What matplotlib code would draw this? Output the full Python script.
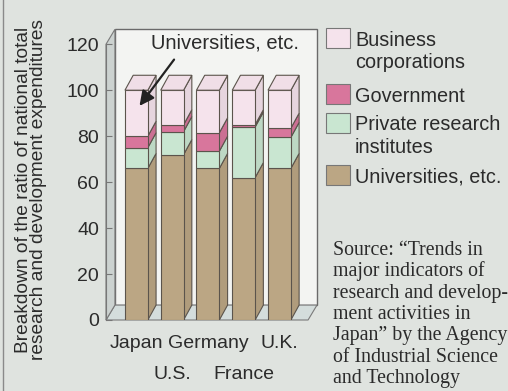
import numpy as np
import matplotlib.pyplot as plt
from matplotlib.patches import Polygon, Rectangle
from matplotlib.colors import to_rgb

countries = ['Japan', 'U.S.', 'Germany', 'France', 'U.K.']
universities = [66, 72, 66, 62, 66]
private = [9, 10, 7.5, 22, 13.5]
government = [5, 3, 8, 1, 4]
business = [20, 15, 18.5, 15, 16.5]

series = [universities, private, government, business]
colors = ['#bba684', '#c9e6d1', '#d8769c', '#f5e3ec']
legend_labels = ['Business\ncorporations', 'Government', 'Private research\ninstitutes', 'Universities, etc.']
legend_colors = ['#f5e3ec', '#d8769c', '#c9e6d1', '#bba684']
source_lines = ['Source: \u201cTrends in', 'major indicators of', 'research and develop-',
                'ment activities in', 'Japan\u201d by the Agency', 'of Industrial Science',
                'and Technology']

bg = '#dfe3df'
edge = '#5b544c'
txt = '#2b2b2b'
plt.rcParams['font.family'] = ['Liberation Sans', 'DejaVu Sans']

W, H = 508, 391
fig = plt.figure(figsize=(W / 100, H / 100), dpi=100, facecolor=bg)
ax = fig.add_axes([106 / W, 71 / H, 211 / W, 290 / H])
ax.set_facecolor('none')
x0, x1 = -0.85, 5.05
ax.set_xlim(x0, x1)
ax.set_ylim(0, 126.2)

bar_w = 0.64
dx, dy = 0.23, 6.5     # bar depth
wdx = 0.25             # box depth

def shade(c, f):
    return tuple(v * f for v in to_rgb(c))

# box: back panel, floor, left wall
ax.add_patch(Polygon([(x0 + wdx, dy), (x1, dy), (x1, 120 + dy), (x0 + wdx, 120 + dy)],
                     fc='#f3f4f2', ec='#6a6a6a', lw=1, zorder=0, clip_on=False))
ax.add_patch(Polygon([(x0, 0), (x1 - wdx, 0), (x1, dy), (x0 + wdx, dy)],
                     fc='#d4dddc', ec='#7a7a7a', lw=0.8, zorder=1, clip_on=False))
ax.add_patch(Polygon([(x0, 0), (x0, 120), (x0 + wdx, 120 + dy), (x0 + wdx, dy)],
                     fc='#ccd2d0', ec='#7a7a7a', lw=0.8, zorder=1, clip_on=False))

# 3D stacked bars
for i in range(len(countries)):
    left = i - bar_w / 2
    right = left + bar_w
    bottom = 0
    for s, c in zip(series, colors):
        top = bottom + s[i]
        ax.add_patch(Rectangle((left, bottom), bar_w, s[i], fc=c, ec=edge, lw=0.8, zorder=3))
        ax.add_patch(Polygon([(right, bottom), (right + dx, bottom + dy), (right + dx, top + dy), (right, top)],
                             fc=shade(c, 0.94), ec=edge, lw=0.8, zorder=2))
        bottom = top
    ax.add_patch(Polygon([(left, bottom), (right, bottom), (right + dx, bottom + dy), (left + dx, bottom + dy)],
                         fc=shade(colors[-1], 0.98), ec=edge, lw=0.8, zorder=3))

for sp in ['top', 'right', 'bottom']:
    ax.spines[sp].set_visible(False)
ax.spines['left'].set_bounds(0, 120)
ax.spines['left'].set_color('#777777')
ax.set_yticks(range(0, 121, 20))
ax.tick_params(axis='y', direction='in', length=4, color='#777777', labelsize=14, labelcolor=txt, pad=5)

# staggered country names: even ones on the first row, odd ones below
even = list(range(0, len(countries), 2))
odd = list(range(1, len(countries), 2))
ax.set_xticks(even)
ax.set_xticklabels([countries[i] for i in even])
ax.set_xticks(odd, minor=True)
ax.set_xticklabels([countries[i] for i in odd], minor=True)
ax.tick_params(axis='x', which='major', length=0, labelsize=14, labelcolor=txt, pad=11)
ax.tick_params(axis='x', which='minor', length=0, labelsize=14, labelcolor=txt, pad=33)

ax.annotate('', xy=(0.04, 92.2), xytext=(1.1, 114.3),
            arrowprops=dict(arrowstyle='-|>', color='#222222', lw=1.6, mutation_scale=22), zorder=6)
ax.text(2.48, 120.6, 'Universities, etc.', ha='center', va='center', fontsize=14.5, color=txt, zorder=6)

fig.text(31 / W, 1 - 190 / H,
         'Breakdown of the ratio of national total\nresearch and development expenditures',
         rotation=90, ha='center', va='center', fontsize=13.8, color=txt, linespacing=0.92)

# legend, one line of text at a time
centers = [38, 94, 123, 175]
for lab, c, cy in zip(legend_labels, legend_colors, centers):
    fig.add_artist(Rectangle((326 / W, 1 - (cy + 10) / H), 24 / W, 20 / H,
                             transform=fig.transFigure, fc=c, ec='#777777', lw=0.8))
    for k, line in enumerate(lab.split('\n')):
        fig.text(355 / W, 1 - (cy + 7.5 + 23 * k) / H, line, ha='left', va='baseline',
                 fontsize=14.3, color=txt)

for k, line in enumerate(source_lines):
    fig.text(333 / W, 1 - (255 + 21.3 * k) / H, line, ha='left', va='baseline',
             fontsize=14.3, family='Liberation Serif', color=txt)

fig.add_artist(plt.Line2D([3 / W, 3 / W], [0, 1], color='#8a8a8a', lw=1))

fig.savefig('out.png', dpi=100, facecolor=bg)
